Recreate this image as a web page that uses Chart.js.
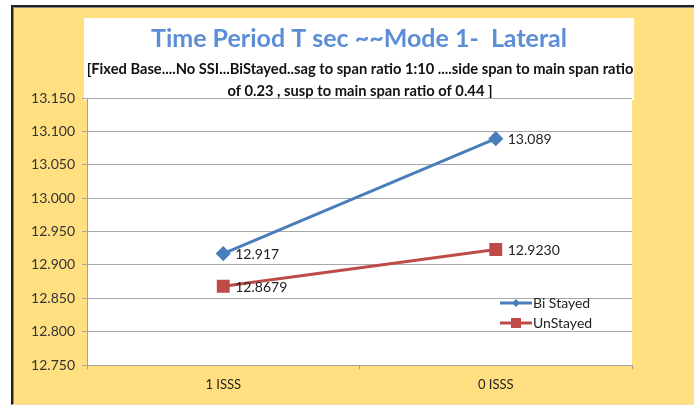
<!DOCTYPE html>
<html>
<head>
<meta charset="utf-8">
<script src="https://cdn.jsdelivr.net/npm/chart.js@4.4.0/dist/chart.umd.min.js"></script>
<style>
  html, body { margin: 0; padding: 0; background: #ffffff; }
  #wrap { position: absolute; left: 0; top: 0; width: 694px; height: 405px; overflow: hidden; }
  #frame { position: absolute; left: 11px; top: 5px; width: 690px; height: 397px;
           background: #FFDF80; border-left: 2px solid #222; border-top: 2px solid #222;
           box-shadow: inset 1px 1px 0 #888; border-bottom: 1px solid #f0e0b0; }
  canvas { position: absolute; left: 0; top: 0; }
</style>
</head>
<body>
<div id="wrap">
  <div id="frame"></div>
  <canvas id="c" width="694" height="405"></canvas>
</div>
<script>
const categories = ["1 ISSS", "0 ISSS"];
const biStayed = [12.917, 13.089];
const unStayed = [12.8679, 12.9230];
const biDecimals = 3;
const unDecimals = 4;
const yMin = 12.75, yMax = 13.15, yStep = 0.05;
const titleText = "Time Period T sec ~~Mode 1-  Lateral";
const subtitleLines = [
  "[Fixed Base....No SSI...BiStayed..sag to span ratio 1:10 ....side span to main span ratio",
  "of 0.23 , susp to main span ratio of 0.44 ]"
];
const seriesNames = ["Bi Stayed", "UnStayed"];

const FONT = "Lato, 'Open Sans', sans-serif";

const bgPlugin = {
  id: 'bg',
  beforeDraw(chart) {
    const ctx = chart.ctx, a = chart.chartArea;
    ctx.save();
    ctx.fillStyle = '#ffffff';
    ctx.fillRect(84, 18, 550, 82);
    ctx.fillRect(a.left, a.top, a.right - a.left, a.bottom - a.top);
    // title
    ctx.textAlign = 'center';
    ctx.textBaseline = 'alphabetic';
    ctx.fillStyle = '#5B8ED6';
    ctx.font = "bold 25px " + FONT;
    ctx.fillText(titleText, 359, 47);
    ctx.fillStyle = '#111111';
    ctx.font = "bold 14.7px " + FONT;
    ctx.fillText(subtitleLines[0], 360, 74);
    ctx.fillText(subtitleLines[1], 360, 96);
    ctx.restore();
  },
  afterDatasetsDraw(chart) {
    const ctx = chart.ctx;
    ctx.save();
    ctx.font = "14px " + FONT;
    ctx.fillStyle = '#222222';
    ctx.textBaseline = 'middle';
    ctx.textAlign = 'left';
    chart.data.datasets.forEach((ds, i) => {
      const meta = chart.getDatasetMeta(i);
      meta.data.forEach((pt, j) => {
        ctx.fillText(ds.data[j].toFixed(ds.decimals), pt.x + 12, pt.y + 1);
      });
    });
    // legend
    const lx = 500, ly = [303, 323];
    chart.data.datasets.forEach((ds, i) => {
      const y = ly[i];
      ctx.strokeStyle = ds.borderColor;
      ctx.lineWidth = 3;
      ctx.beginPath(); ctx.moveTo(lx, y); ctx.lineTo(lx + 32, y); ctx.stroke();
      ctx.fillStyle = ds.borderColor;
      if (ds.pointStyle === 'rectRot') {
        ctx.beginPath();
        ctx.moveTo(lx + 16, y - 4); ctx.lineTo(lx + 20, y); ctx.lineTo(lx + 16, y + 4); ctx.lineTo(lx + 12, y);
        ctx.closePath(); ctx.fill();
      } else {
        ctx.fillRect(lx + 11, y - 5, 10, 10);
      }
      ctx.fillStyle = '#222222';
      ctx.font = "14px " + FONT;
      ctx.fillText(ds.label, lx + 33, y);
    });
    ctx.restore();
  }
};

new Chart(document.getElementById('c'), {
  type: 'line',
  data: {
    labels: categories,
    datasets: [
      { label: seriesNames[0], data: biStayed, decimals: biDecimals,
        borderColor: '#4A7EBB', backgroundColor: '#4A7EBB', borderWidth: 3,
        pointStyle: 'rectRot', pointRadius: 5.5, pointHoverRadius: 5.5 },
      { label: seriesNames[1], data: unStayed, decimals: unDecimals,
        borderColor: '#BE4B48', backgroundColor: '#BE4B48', borderWidth: 3,
        pointStyle: 'rect', pointRadius: 7, pointHoverRadius: 7 }
    ]
  },
  options: {
    responsive: false,
    animation: false,
    events: [],
    layout: { padding: { left: 10, top: 98, right: 62, bottom: 0 } },
    plugins: { legend: { display: false }, title: { display: false }, tooltip: { enabled: false } },
    scales: {
      x: {
        offset: true,
        grid: { offset: true, drawOnChartArea: false, tickLength: 4, color: '#A0A0A0' },
        border: { color: '#A0A0A0' },
        ticks: { padding: 8, color: '#222', font: { family: FONT, size: 13 } },
        afterFit(s) { s.height = 40; }
      },
      y: {
        min: yMin, max: yMax,
        grid: { color: '#A8A8A8', tickLength: 5 },
        border: { color: '#A0A0A0' },
        ticks: { stepSize: yStep, padding: 7, color: '#333', font: { family: FONT, size: 14 },
                 callback: v => v.toFixed(3) },
        afterFit(s) { s.width = 77; }
      }
    }
  },
  plugins: [bgPlugin]
});
</script>
</body>
</html>
